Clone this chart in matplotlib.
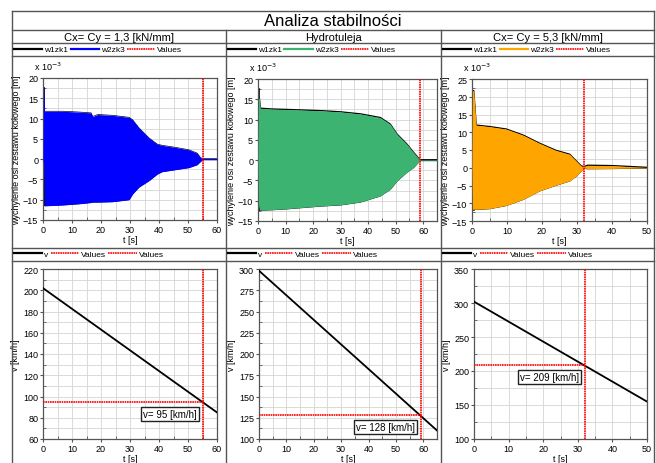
import matplotlib
matplotlib.use("Agg")
import matplotlib.pyplot as plt
from matplotlib.lines import Line2D
from matplotlib.ticker import MultipleLocator

plt.rcParams['font.family'] = ['Liberation Sans', 'DejaVu Sans']

W, H = 656, 464

# column headers
headers = ["Cx= Cy = 1,3 [kN/mm]", "Hydrotuleja", "Cx= Cy = 5,3 [kN/mm]"]
colors = ["#0000ff", "#3cb371", "#ffa500"]

# envelopes of w2zk3 oscillation [x 10^-3 m]
t1 = [0, 0.15, 0.3, 0.5, 0.9, 7, 12.6, 16.6, 17.1, 18.9, 24, 29.7, 30.9, 33.1, 36.6, 39.4, 41.1, 45.7, 50.3, 53.1, 54.3, 55, 60]
up1 = [0, 17.7, 17.7, 11.8, 11.8, 11.8, 11.6, 11.4, 10.5, 11.0, 10.8, 10.3, 9.7, 7.7, 5.2, 3.7, 3.4, 2.9, 2.3, 1.5, 0.4, 0.15, 0.15]
lo1 = [0, -1, -1, -11.5, -11.5, -11.3, -11.0, -10.7, -10.6, -10.6, -10.5, -10.0, -8.6, -6.9, -5.3, -3.7, -3.1, -2.6, -2.1, -1.4, -0.6, -0.15, -0.15]

t2 = [0, 0.2, 0.5, 0.85, 5, 10, 22.6, 30, 37.2, 44.4, 48, 50.5, 54, 56.5, 58.8, 65]
up2 = [0, 15.3, 15.3, 12.8, 12.6, 12.5, 12.2, 11.9, 11.4, 10.5, 8.9, 6.4, 4.0, 1.9, 0.08, 0.08]
lo2 = [0, -11, -12.3, -12.3, -12.2, -12.0, -11.3, -11.0, -10.3, -8.8, -7.2, -5.1, -3.0, -1.8, -0.08, -0.08]

t3 = [0, 0.15, 0.5, 1.2, 5, 9.8, 14.6, 19.3, 24, 27.9, 29.8, 31.2, 32, 33, 40, 45, 50]
up3 = [0, 21.7, 21.7, 12.0, 11.6, 10.9, 9.2, 6.9, 4.9, 3.8, 1.9, 0.5, 0.3, 0.7, 0.6, 0.35, 0.1]
lo3 = [0, -11.7, -11.7, -11.7, -11.5, -10.6, -8.9, -6.5, -4.9, -3.7, -2.3, -0.9, -0.1, -0.25, -0.2, -0.12, -0.05]

# w1zk1 initial spikes: (t, y_from, y_to)
spikes = [[(0.3, 0, 17.5), (0.6, 0, -11.3)],
          [(0.3, 0, 17.5), (0.3, -1, -12.2)],
          [(0.5, 0, -12.0)]]
edge_lw = [0.5, 1.0, 1.0]

# speed v(t)
tv = [[0, 60], [0, 65], [0, 50]]
vv = [[202, 85], [298, 110], [302, 155]]

# stability limit
t_crit = [55, 59, 32]
v_crit = [95, 128, 209]

top_lims = [((0, 60), (-15, 20)), ((0, 65), (-15, 20)), ((0, 50), (-15, 25))]
bot_lims = [((0, 60), (60, 220), 20), ((0, 65), (100, 300), 25), ((0, 50), (100, 350), 50)]

top_px = [(43, 79, 217, 221), (258, 80, 437, 222), (472, 80, 647, 222)]
bot_px = [(43, 270, 217, 440), (259, 270, 437, 440), (474, 270, 647, 440)]
col_px = [12, 226, 441, 654]

fig = plt.figure(figsize=(W / 100, H / 100), dpi=100)


def fx(x):
    return x / W


def fy(y):
    return 1 - y / H


def add_ax(box):
    x0, y0, x1, y1 = box
    return fig.add_axes([fx(x0), fy(y1), (x1 - x0) / W, (y1 - y0) / H])


def style(ax):
    ax.set_facecolor("white")
    for s in ax.spines.values():
        s.set_color("#555555")
        s.set_linewidth(0.9)
    ax.grid(True, which="both", color="#d4d4d4", lw=0.6, zorder=0)
    ax.set_axisbelow(True)
    ax.tick_params(which="major", labelsize=6.5, length=2.5, direction="out", pad=1, color="#555555")
    ax.tick_params(which="minor", length=2, direction="in", color="#555555")


dotted = (0, (1, 0.4))
lc = "#555555"

# frame lines
frame = [((col_px[0], col_px[3]), (11.5, 11.5)),
         ((col_px[0], col_px[0]), (11.5, H)),
         ((col_px[3], col_px[3]), (11.5, H)),
         ((col_px[1], col_px[1]), (31, H)),
         ((col_px[2], col_px[2]), (31, H))]
for yy in [31, 44, 57, 249, 262]:
    frame.append(((col_px[0], col_px[3]), (yy, yy)))
for xs, ys in frame:
    fig.add_artist(Line2D([fx(x) for x in xs], [fy(y) for y in ys], color=lc, lw=1.0))

fig.text(fx(333), fy(21.5), "Analiza stabilności", ha="center", va="center", fontsize=12)

envs = [(t1, up1, lo1), (t2, up2, lo2), (t3, up3, lo3)]

for i in range(3):
    cx = (col_px[i] + col_px[i + 1]) / 2
    fig.text(fx(cx), fy(38), headers[i], ha="center", va="center", fontsize=8)

    # legends
    h1 = [Line2D([], [], color="black", lw=1.6),
          Line2D([], [], color=colors[i], lw=1.6),
          Line2D([], [], color="red", lw=1.2, ls=dotted)]
    fig.legend(h1, ["w1zk1", "w2zk3", "Values"], loc="center left",
               bbox_to_anchor=(fx(col_px[i] + 2), fy(50.5)), ncol=3, frameon=False,
               fontsize=6, handlelength=3.4, handletextpad=0.25, columnspacing=0.25,
               borderpad=0, borderaxespad=0)
    h2 = [Line2D([], [], color="black", lw=1.6),
          Line2D([], [], color="red", lw=1.2, ls=dotted),
          Line2D([], [], color="red", lw=1.2, ls=dotted)]
    fig.legend(h2, ["v", "Values", "Values"], loc="center left",
               bbox_to_anchor=(fx(col_px[i] + 2), fy(255.5)), ncol=3, frameon=False,
               fontsize=6, handlelength=3.4, handletextpad=0.25, columnspacing=0.25,
               borderpad=0, borderaxespad=0)

    # top: oscillation
    ax = add_ax(top_px[i])
    style(ax)
    t, up, lo = envs[i]
    ax.plot(t, up, color="black", lw=edge_lw[i], zorder=2)
    ax.plot(t, lo, color="black", lw=edge_lw[i], zorder=2)
    for ts, ya, yb in spikes[i]:
        ax.plot([ts, ts], [ya, yb], color="black", lw=1.2, zorder=2)
    ax.fill_between(t, lo, up, color=colors[i], lw=0, zorder=3)
    ax.axvline(t_crit[i], color="red", lw=1.2, ls=dotted, zorder=4)
    (xa, xb), (ya, yb) = top_lims[i]
    ax.set_xlim(xa, xb)
    ax.set_ylim(ya, yb)
    ax.xaxis.set_major_locator(MultipleLocator(10))
    ax.xaxis.set_minor_locator(MultipleLocator(5))
    ax.yaxis.set_major_locator(MultipleLocator(5))
    ax.yaxis.set_minor_locator(MultipleLocator(2.5))
    ax.set_xlabel("t [s]", fontsize=6.5, labelpad=1)
    ax.set_ylabel("wychylenie osi zestawu kołowego [m]", fontsize=6.5, labelpad=1)
    ax.text(-0.05, 1.04, r"x 10$^{-3}$", transform=ax.transAxes, fontsize=6.5,
            ha="left", va="bottom")

    # bottom: speed
    bx = add_ax(bot_px[i])
    style(bx)
    bx.plot(tv[i], vv[i], color="black", lw=1.3, zorder=3)
    bx.axvline(t_crit[i], color="red", lw=1.2, ls=dotted, zorder=4)
    bx.plot([0, t_crit[i]], [v_crit[i], v_crit[i]], color="red", lw=1.2, ls=dotted, zorder=4)
    (xa, xb), (ya, yb), step = bot_lims[i]
    bx.set_xlim(xa, xb)
    bx.set_ylim(ya, yb)
    bx.xaxis.set_major_locator(MultipleLocator(10))
    bx.xaxis.set_minor_locator(MultipleLocator(5))
    bx.yaxis.set_major_locator(MultipleLocator(step))
    bx.yaxis.set_minor_locator(MultipleLocator(step / 2))
    bx.set_xlabel("t [s]", fontsize=6.5, labelpad=1)
    bx.set_ylabel("v [km/h]", fontsize=6.5, labelpad=2)
    bx.annotate("v= %d [km/h]" % v_crit[i], xy=(t_crit[i], v_crit[i]),
                xytext=(-4, -5), textcoords="offset points", ha="right", va="top",
                fontsize=7, zorder=5,
                bbox=dict(boxstyle="square,pad=0.2", fc="white", ec="#222222", lw=1.0))

fig.savefig("out.png", dpi=100, facecolor="white")
